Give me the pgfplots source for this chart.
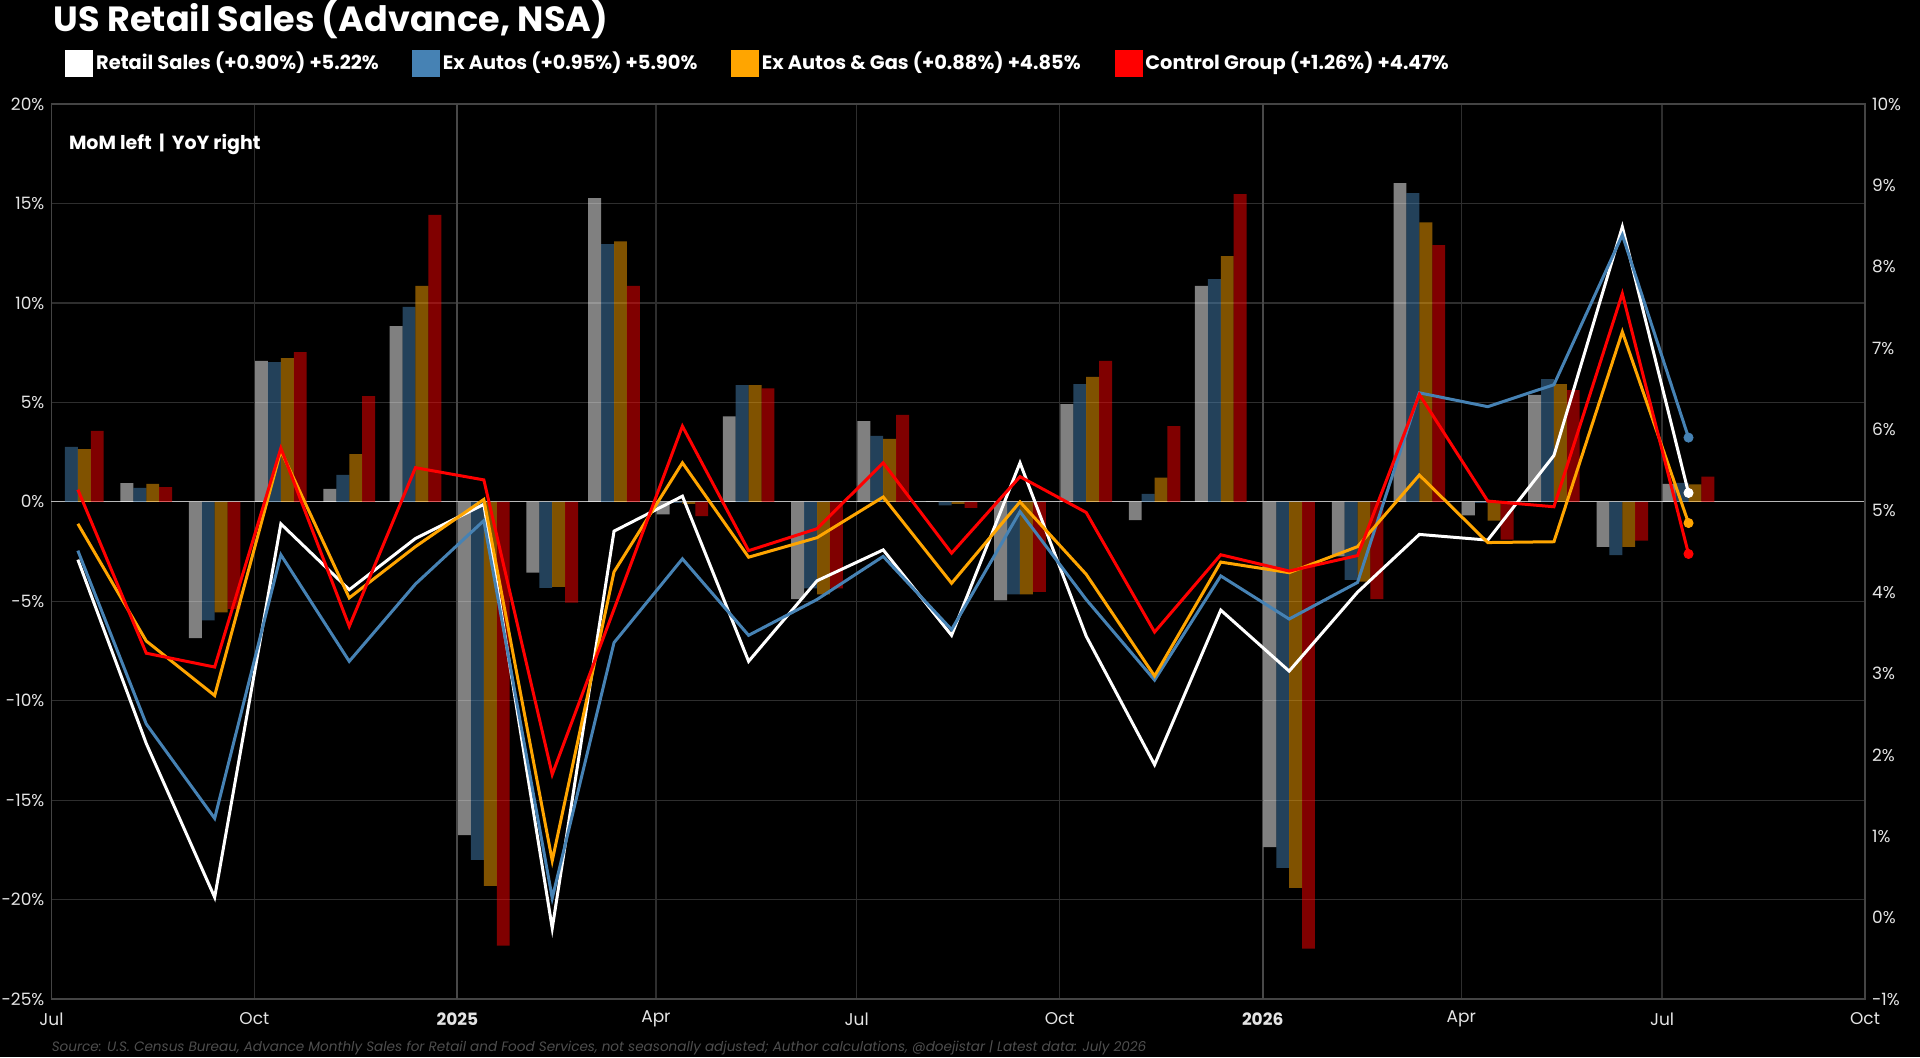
\documentclass[border=0pt]{standalone}
\usepackage{fontspec}
\setmainfont{Poppins}
\usepackage{pgfplots}
\pgfplotsset{compat=1.18}
\usepackage{pgfplotstable}
\definecolor{sblue}{RGB}{70,130,180}
\definecolor{sorange}{RGB}{255,165,0}
\definecolor{sred}{RGB}{255,0,0}
\definecolor{gridc}{RGB}{46,46,46}
\definecolor{yearc}{RGB}{72,72,72}
\definecolor{spinec}{RGB}{68,68,68}
\definecolor{tickc}{RGB}{228,228,228}
\definecolor{srcc}{RGB}{78,78,78}

% MoM (left axis), x = days since 2024-07-01 (+12)
\pgfplotstableread{
x rs xa xag cg
12 nan 2.76 2.65 3.57
43 0.94 0.70 0.90 0.74
74 -6.86 -5.96 -5.56 -5.38
104 7.09 7.02 7.22 7.53
135 0.65 1.35 2.40 5.31
165 8.83 9.80 10.85 14.42
196 -16.76 -18.01 -19.31 -22.32
227 -3.56 -4.33 -4.28 -5.07
255 15.27 12.96 13.09 10.85
286 -0.63 -0.05 -0.10 -0.72
316 4.30 5.87 5.87 5.70
347 -4.89 -4.35 -4.66 -4.35
377 4.06 3.32 3.16 4.37
408 0.02 -0.18 -0.11 -0.31
439 -4.96 -4.66 -4.66 -4.53
469 4.91 5.92 6.28 7.09
500 -0.92 0.40 1.21 3.81
530 10.85 11.19 12.35 15.47
561 -17.36 -18.41 -19.41 -22.47
592 -2.74 -3.93 -4.01 -4.90
620 16.02 15.52 14.05 12.90
651 -0.68 -0.05 -0.95 -1.90
681 5.38 6.17 5.92 5.62
712 -2.27 -2.68 -2.27 -1.95
742 0.90 0.95 0.88 1.26
}\mom

% YoY (right axis)
\pgfplotstableread{
x rs xa xag cg
12 4.40 4.51 4.84 5.26
43 2.14 2.38 3.40 3.25
74 0.25 1.22 2.73 3.08
104 4.84 4.46 5.74 5.77
135 4.03 3.15 3.93 3.58
165 4.66 4.10 4.56 5.53
196 5.08 4.88 5.14 5.38
227 -0.13 0.24 0.70 1.76
255 4.75 3.38 4.25 3.79
286 5.18 4.41 5.59 6.04
316 3.15 3.47 4.43 4.51
347 4.14 3.91 4.67 4.78
377 4.52 4.44 5.17 5.59
408 3.47 3.54 4.11 4.48
439 5.59 4.99 5.11 5.42
469 3.46 3.91 4.22 4.98
500 1.88 2.92 2.97 3.51
530 3.78 4.20 4.37 4.46
561 3.03 3.67 4.24 4.26
592 4.00 4.12 4.56 4.45
620 4.71 6.45 5.44 6.43
651 4.64 6.28 4.61 5.12
681 5.68 6.55 4.62 5.05
712 8.49 8.39 7.20 7.67
742 5.22 5.90 4.85 4.47
}\yoy

\begin{document}
\begin{tikzpicture}
\fill[black, use as bounding box] (-25.7pt,-29pt) rectangle (934.3pt,499.5pt);

\begin{axis}[
  scale only axis, width=906.8pt, height=447.5pt,
  xmin=0, xmax=822, ymin=-25, ymax=20,
  axis line style={draw=spinec, line width=0.8pt},
  xtick={0,92,184,274,365,457,549,639,730,822},
  xticklabels={Jul,Oct,\textbf{2025},Apr,Jul,Oct,\textbf{2026},Apr,Jul,Oct},
  ytick={-25,-20,...,20},
  yticklabel={\pgfmathprintnumber{\tick}\%},
  /pgf/number format/assume math mode=true,
  major tick length=0pt,
  grid=major, major grid style={draw=gridc, line width=0.6pt},
  extra x ticks={184,549}, extra x tick labels={},
  extra x tick style={grid=major, major grid style={draw=yearc, line width=1pt}},
  extra y ticks={0}, extra y tick labels={},
  extra y tick style={grid=major, major grid style={draw=white!72!black, line width=0.7pt}},
  ticklabel style={font=\fontsize{8.5}{10}\selectfont, text=tickc},
  xticklabel style={anchor=center, yshift=-10pt},
  ybar, bar width=5.85,
]
\addplot[fill=white, fill opacity=0.5, draw=none, bar shift=-8.775] table[x=x,y=rs]{\mom};
\addplot[fill=sblue, fill opacity=0.5, draw=none, bar shift=-2.925] table[x=x,y=xa]{\mom};
\addplot[fill=sorange, fill opacity=0.5, draw=none, bar shift=2.925] table[x=x,y=xag]{\mom};
\addplot[fill=sred, fill opacity=0.5, draw=none, bar shift=8.775] table[x=x,y=cg]{\mom};
\end{axis}

\begin{axis}[
  scale only axis, width=906.8pt, height=447.5pt,
  xmin=0, xmax=822, ymin=-1, ymax=10,
  hide x axis,
  axis y line*=right,
  axis line style={draw=spinec, line width=0.8pt},
  ytick={-1,0,...,10},
  yticklabel={\pgfmathprintnumber{\tick}\%},
  /pgf/number format/assume math mode=true,
  major tick length=0pt,
  ticklabel style={font=\fontsize{8.5}{10}\selectfont, text=tickc},
]
\addplot[white, line width=1.5pt, mark=none] table[x=x,y=rs]{\yoy};
\addplot[sblue, line width=1.5pt, mark=none] table[x=x,y=xa]{\yoy};
\addplot[sorange, line width=1.5pt, mark=none] table[x=x,y=xag]{\yoy};
\addplot[sred, line width=1.5pt, mark=none] table[x=x,y=cg]{\yoy};
\addplot[only marks, mark=*, mark size=2.3pt, white, skip coords between index={0}{24}] table[x=x,y=rs]{\yoy};
\addplot[only marks, mark=*, mark size=2.3pt, sblue, skip coords between index={0}{24}] table[x=x,y=xa]{\yoy};
\addplot[only marks, mark=*, mark size=2.3pt, sorange, skip coords between index={0}{24}] table[x=x,y=xag]{\yoy};
\addplot[only marks, mark=*, mark size=2.3pt, sred, skip coords between index={0}{24}] table[x=x,y=cg]{\yoy};
\end{axis}

% title
\node[anchor=base west, inner sep=0pt, text=white, font=\fontsize{17.5}{20}\selectfont\bfseries] at (1pt,483.5pt) {US Retail Sales (Advance, NSA)};

% legend
\begin{scope}[every node/.style={anchor=west, inner sep=0pt, text=white, font=\fontsize{9.7}{12}\selectfont\bfseries}]
\fill[white] (7pt,461.2pt) rectangle (21pt,474.7pt);
\node at (22.2pt,468pt) {Retail Sales (+0.90\%) +5.22\%};
\fill[sblue] (180.3pt,461.2pt) rectangle (194.3pt,474.7pt);
\node at (195.5pt,468pt) {Ex Autos (+0.95\%) +5.90\%};
\fill[sorange] (339.8pt,461.2pt) rectangle (353.8pt,474.7pt);
\node at (355pt,468pt) {Ex Autos \& Gas (+0.88\%) +4.85\%};
\fill[sred] (531.6pt,461.2pt) rectangle (545.6pt,474.7pt);
\node at (546.8pt,468pt) {Control Group (+1.26\%) +4.47\%};
\end{scope}

% annotation
\node[anchor=west, inner sep=0pt, text=white, font=\fontsize{9.5}{11}\selectfont\bfseries] at (8.6pt,427.3pt) {MoM left \,|\, YoY right};

% source
\node[anchor=west, inner sep=0pt, text=srcc, font=\fontsize{6.8}{8}\selectfont\itshape] at (0pt,-24.5pt) {Source: U.S. Census Bureau, Advance Monthly Sales for Retail and Food Services, not seasonally adjusted; Author calculations, @doejistar | Latest data: July 2026};
\end{tikzpicture}
\end{document}
